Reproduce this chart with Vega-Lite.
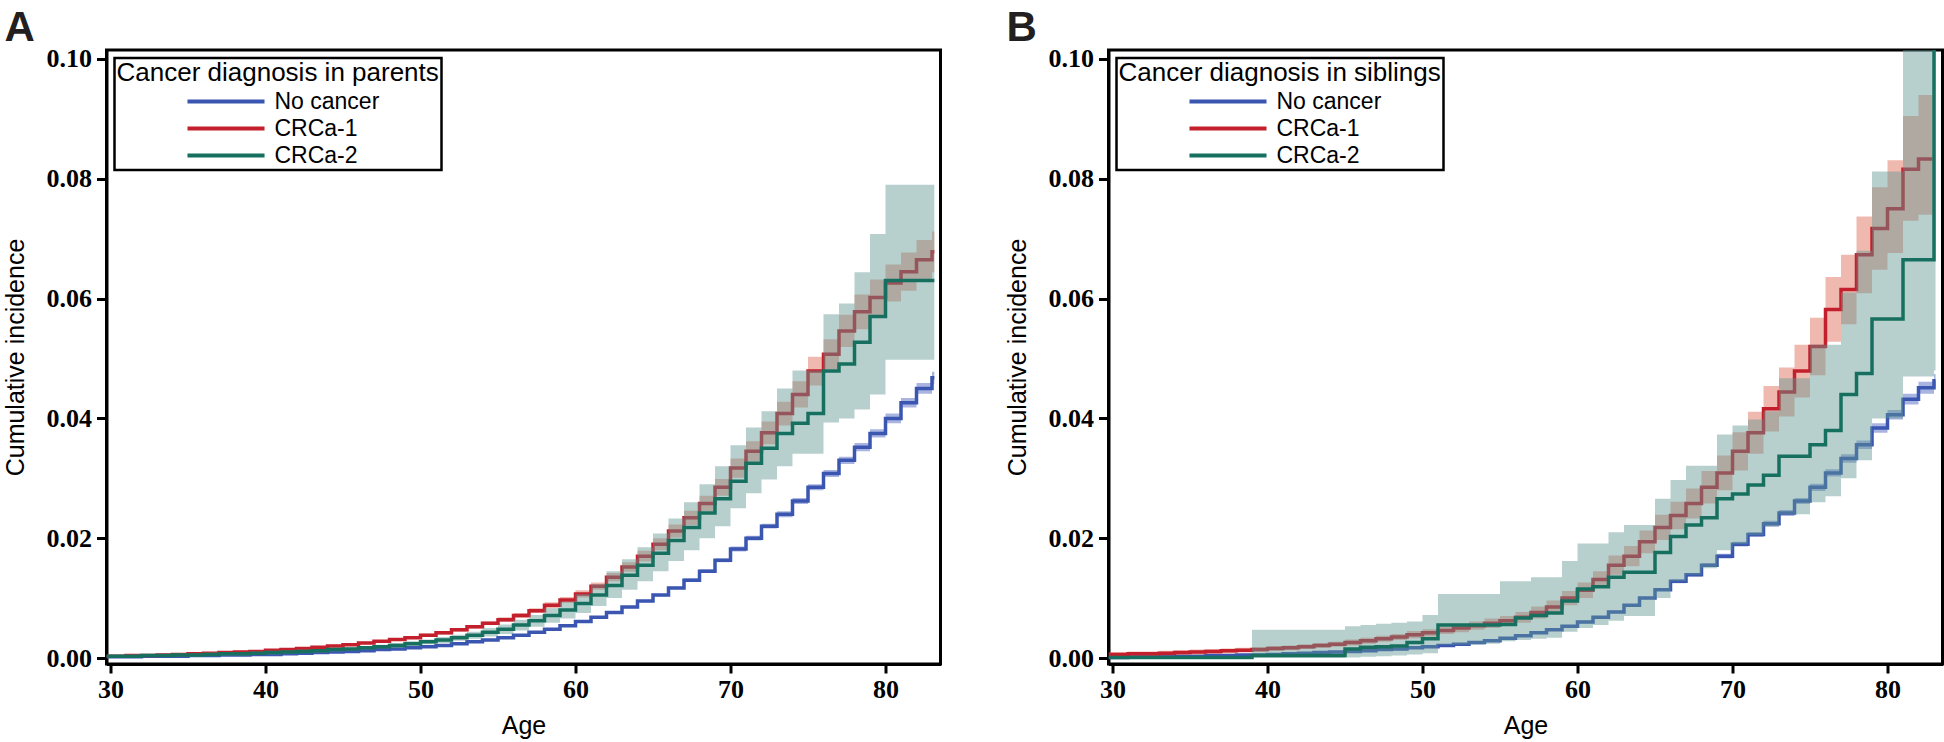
{
"$schema": "https://vega.github.io/schema/vega-lite/v6.json",
"autosize": {"type": "pad"},
"padding": {"left": 1.5, "top": 5, "right": 0, "bottom": 0},
"background": "white",
"config": {
 "view": {"stroke": "black", "strokeWidth": 3},
 "axis": {"grid": false, "domainColor": "black", "domainWidth": 3, "tickColor": "black", "tickWidth": 3, "tickSize": 9, "labelFont": "Liberation Serif", "labelFontWeight": "bold", "labelFontSize": 26, "labelColor": "black", "titleFont": "Liberation Sans", "titleFontWeight": "normal", "titleFontSize": 25, "titleColor": "black"},
 "axisX": {"labelPadding": 3, "titlePadding": 11},
 "axisY": {"labelPadding": 5, "titlePadding": 18, "tickSize": 10},
 "legend": {"orient": "top-left", "offset": 8, "titleFont": "Liberation Sans", "titleFontSize": 26, "titleFontWeight": "normal", "titleColor": "black", "titlePadding": 2, "titleLimit": 600, "labelFont": "Liberation Sans", "labelFontSize": 23, "labelColor": "black", "labelLimit": 400, "symbolType": "M-3.35,0H3.35", "symbolSize": 529, "symbolStrokeWidth": 4, "symbolOffset": 96, "labelOffset": 35, "rowPadding": 1, "strokeColor": "black", "strokeWidth": 2.5, "fillColor": "white", "padding": 2},
 "title": {"anchor": "start", "frame": "group", "fontSize": 42, "fontWeight": "bold", "font": "Liberation Sans", "color": "#231f20", "dx": -102, "offset": -4}
},
"datasets": {
"parents": [
{"g":"No cancer","a":29.75,"v":0.0002,"lo":0.0001,"hi":0.0003},
{"g":"No cancer","a":32,"v":0.0003,"lo":0.0002,"hi":0.0004},
{"g":"No cancer","a":35,"v":0.0004,"lo":0.0003,"hi":0.0005},
{"g":"No cancer","a":37,"v":0.0005,"lo":0.0004,"hi":0.0006},
{"g":"No cancer","a":39,"v":0.0006,"lo":0.0005,"hi":0.0007},
{"g":"No cancer","a":41,"v":0.0007,"lo":0.0006,"hi":0.0008},
{"g":"No cancer","a":42,"v":0.0008,"lo":0.0007,"hi":0.0009},
{"g":"No cancer","a":43,"v":0.0009,"lo":0.0008,"hi":0.0010},
{"g":"No cancer","a":44,"v":0.0010,"lo":0.0009,"hi":0.0011},
{"g":"No cancer","a":45,"v":0.0011,"lo":0.0010,"hi":0.0012},
{"g":"No cancer","a":46,"v":0.0012,"lo":0.0011,"hi":0.0013},
{"g":"No cancer","a":47,"v":0.0014,"lo":0.0013,"hi":0.0015},
{"g":"No cancer","a":48,"v":0.0015,"lo":0.0014,"hi":0.0016},
{"g":"No cancer","a":49,"v":0.0017,"lo":0.0016,"hi":0.0018},
{"g":"No cancer","a":50,"v":0.0019,"lo":0.0018,"hi":0.0020},
{"g":"No cancer","a":51,"v":0.0021,"lo":0.0020,"hi":0.0022},
{"g":"No cancer","a":52,"v":0.0024,"lo":0.0023,"hi":0.0025},
{"g":"No cancer","a":53,"v":0.0027,"lo":0.0026,"hi":0.0028},
{"g":"No cancer","a":54,"v":0.0030,"lo":0.0029,"hi":0.0031},
{"g":"No cancer","a":55,"v":0.0034,"lo":0.0033,"hi":0.0035},
{"g":"No cancer","a":56,"v":0.0038,"lo":0.0037,"hi":0.0039},
{"g":"No cancer","a":57,"v":0.0043,"lo":0.0042,"hi":0.0044},
{"g":"No cancer","a":58,"v":0.0048,"lo":0.0047,"hi":0.0049},
{"g":"No cancer","a":59,"v":0.0054,"lo":0.0053,"hi":0.0055},
{"g":"No cancer","a":60,"v":0.0061,"lo":0.0059,"hi":0.0063},
{"g":"No cancer","a":61,"v":0.0068,"lo":0.0066,"hi":0.0070},
{"g":"No cancer","a":62,"v":0.0076,"lo":0.0074,"hi":0.0078},
{"g":"No cancer","a":63,"v":0.0085,"lo":0.0083,"hi":0.0087},
{"g":"No cancer","a":64,"v":0.0095,"lo":0.0093,"hi":0.0097},
{"g":"No cancer","a":65,"v":0.0105,"lo":0.0103,"hi":0.0107},
{"g":"No cancer","a":66,"v":0.0117,"lo":0.0115,"hi":0.0119},
{"g":"No cancer","a":67,"v":0.0130,"lo":0.0127,"hi":0.0133},
{"g":"No cancer","a":68,"v":0.0145,"lo":0.0142,"hi":0.0148},
{"g":"No cancer","a":69,"v":0.0163,"lo":0.0160,"hi":0.0166},
{"g":"No cancer","a":70,"v":0.0182,"lo":0.0178,"hi":0.0186},
{"g":"No cancer","a":71,"v":0.0200,"lo":0.0196,"hi":0.0204},
{"g":"No cancer","a":72,"v":0.0220,"lo":0.0216,"hi":0.0224},
{"g":"No cancer","a":73,"v":0.0240,"lo":0.0235,"hi":0.0245},
{"g":"No cancer","a":74,"v":0.0262,"lo":0.0257,"hi":0.0267},
{"g":"No cancer","a":75,"v":0.0285,"lo":0.0280,"hi":0.0290},
{"g":"No cancer","a":76,"v":0.0308,"lo":0.0302,"hi":0.0314},
{"g":"No cancer","a":77,"v":0.0330,"lo":0.0324,"hi":0.0336},
{"g":"No cancer","a":78,"v":0.0352,"lo":0.0345,"hi":0.0359},
{"g":"No cancer","a":79,"v":0.0375,"lo":0.0368,"hi":0.0382},
{"g":"No cancer","a":80,"v":0.0400,"lo":0.0392,"hi":0.0408},
{"g":"No cancer","a":81,"v":0.0426,"lo":0.0418,"hi":0.0434},
{"g":"No cancer","a":82,"v":0.0450,"lo":0.0441,"hi":0.0459},
{"g":"No cancer","a":83,"v":0.0468,"lo":0.0458,"hi":0.0478},
{"g":"No cancer","a":83.15,"v":0.0468,"lo":0.0458,"hi":0.0478},
{"g":"CRCa-1","a":29.75,"v":0.0003,"lo":0.0001,"hi":0.0005},
{"g":"CRCa-1","a":31,"v":0.0004,"lo":0.0002,"hi":0.0006},
{"g":"CRCa-1","a":33,"v":0.0005,"lo":0.0003,"hi":0.0007},
{"g":"CRCa-1","a":34,"v":0.0006,"lo":0.0004,"hi":0.0008},
{"g":"CRCa-1","a":35,"v":0.0007,"lo":0.0005,"hi":0.0009},
{"g":"CRCa-1","a":36,"v":0.0008,"lo":0.0006,"hi":0.0010},
{"g":"CRCa-1","a":37,"v":0.0009,"lo":0.0007,"hi":0.0011},
{"g":"CRCa-1","a":38,"v":0.0010,"lo":0.0008,"hi":0.0012},
{"g":"CRCa-1","a":39,"v":0.0011,"lo":0.0009,"hi":0.0013},
{"g":"CRCa-1","a":40,"v":0.0013,"lo":0.0011,"hi":0.0015},
{"g":"CRCa-1","a":41,"v":0.0014,"lo":0.0012,"hi":0.0016},
{"g":"CRCa-1","a":42,"v":0.0016,"lo":0.0014,"hi":0.0018},
{"g":"CRCa-1","a":43,"v":0.0018,"lo":0.0016,"hi":0.0020},
{"g":"CRCa-1","a":44,"v":0.0020,"lo":0.0018,"hi":0.0022},
{"g":"CRCa-1","a":45,"v":0.0022,"lo":0.0020,"hi":0.0024},
{"g":"CRCa-1","a":46,"v":0.0025,"lo":0.0023,"hi":0.0027},
{"g":"CRCa-1","a":47,"v":0.0028,"lo":0.0026,"hi":0.0030},
{"g":"CRCa-1","a":48,"v":0.0031,"lo":0.0029,"hi":0.0033},
{"g":"CRCa-1","a":49,"v":0.0034,"lo":0.0032,"hi":0.0036},
{"g":"CRCa-1","a":50,"v":0.0038,"lo":0.0035,"hi":0.0041},
{"g":"CRCa-1","a":51,"v":0.0042,"lo":0.0039,"hi":0.0045},
{"g":"CRCa-1","a":52,"v":0.0047,"lo":0.0044,"hi":0.0050},
{"g":"CRCa-1","a":53,"v":0.0052,"lo":0.0049,"hi":0.0055},
{"g":"CRCa-1","a":54,"v":0.0058,"lo":0.0055,"hi":0.0061},
{"g":"CRCa-1","a":55,"v":0.0064,"lo":0.0060,"hi":0.0068},
{"g":"CRCa-1","a":56,"v":0.0071,"lo":0.0067,"hi":0.0075},
{"g":"CRCa-1","a":57,"v":0.0079,"lo":0.0075,"hi":0.0083},
{"g":"CRCa-1","a":58,"v":0.0088,"lo":0.0083,"hi":0.0093},
{"g":"CRCa-1","a":59,"v":0.0097,"lo":0.0092,"hi":0.0102},
{"g":"CRCa-1","a":60,"v":0.0107,"lo":0.0101,"hi":0.0113},
{"g":"CRCa-1","a":61,"v":0.0120,"lo":0.0114,"hi":0.0126},
{"g":"CRCa-1","a":62,"v":0.0135,"lo":0.0128,"hi":0.0142},
{"g":"CRCa-1","a":63,"v":0.0152,"lo":0.0144,"hi":0.0160},
{"g":"CRCa-1","a":64,"v":0.0170,"lo":0.0161,"hi":0.0179},
{"g":"CRCa-1","a":65,"v":0.0190,"lo":0.0180,"hi":0.0200},
{"g":"CRCa-1","a":66,"v":0.0212,"lo":0.0201,"hi":0.0223},
{"g":"CRCa-1","a":67,"v":0.0234,"lo":0.0222,"hi":0.0246},
{"g":"CRCa-1","a":68,"v":0.0258,"lo":0.0245,"hi":0.0271},
{"g":"CRCa-1","a":69,"v":0.0285,"lo":0.0271,"hi":0.0299},
{"g":"CRCa-1","a":70,"v":0.0317,"lo":0.0301,"hi":0.0333},
{"g":"CRCa-1","a":71,"v":0.0345,"lo":0.0328,"hi":0.0362},
{"g":"CRCa-1","a":72,"v":0.0376,"lo":0.0357,"hi":0.0395},
{"g":"CRCa-1","a":73,"v":0.0408,"lo":0.0388,"hi":0.0428},
{"g":"CRCa-1","a":74,"v":0.0440,"lo":0.0418,"hi":0.0462},
{"g":"CRCa-1","a":75,"v":0.0479,"lo":0.0455,"hi":0.0503},
{"g":"CRCa-1","a":76,"v":0.0507,"lo":0.0482,"hi":0.0532},
{"g":"CRCa-1","a":77,"v":0.0546,"lo":0.0519,"hi":0.0573},
{"g":"CRCa-1","a":78,"v":0.0578,"lo":0.0549,"hi":0.0607},
{"g":"CRCa-1","a":79,"v":0.0602,"lo":0.0572,"hi":0.0632},
{"g":"CRCa-1","a":80,"v":0.0626,"lo":0.0595,"hi":0.0657},
{"g":"CRCa-1","a":81,"v":0.0645,"lo":0.0613,"hi":0.0677},
{"g":"CRCa-1","a":82,"v":0.0665,"lo":0.0632,"hi":0.0698},
{"g":"CRCa-1","a":83,"v":0.0678,"lo":0.0644,"hi":0.0712},
{"g":"CRCa-1","a":83.15,"v":0.0678,"lo":0.0644,"hi":0.0712},
{"g":"CRCa-2","a":29.75,"v":0.0003,"lo":0.0001,"hi":0.0006},
{"g":"CRCa-2","a":32,"v":0.0004,"lo":0.0002,"hi":0.0007},
{"g":"CRCa-2","a":34,"v":0.0005,"lo":0.0002,"hi":0.0008},
{"g":"CRCa-2","a":36,"v":0.0006,"lo":0.0003,"hi":0.0009},
{"g":"CRCa-2","a":37,"v":0.0007,"lo":0.0004,"hi":0.0010},
{"g":"CRCa-2","a":39,"v":0.0008,"lo":0.0005,"hi":0.0011},
{"g":"CRCa-2","a":40,"v":0.0009,"lo":0.0006,"hi":0.0012},
{"g":"CRCa-2","a":41,"v":0.0010,"lo":0.0007,"hi":0.0013},
{"g":"CRCa-2","a":42,"v":0.0011,"lo":0.0008,"hi":0.0014},
{"g":"CRCa-2","a":43,"v":0.0012,"lo":0.0009,"hi":0.0015},
{"g":"CRCa-2","a":44,"v":0.0014,"lo":0.0011,"hi":0.0017},
{"g":"CRCa-2","a":45,"v":0.0015,"lo":0.0012,"hi":0.0018},
{"g":"CRCa-2","a":46,"v":0.0017,"lo":0.0014,"hi":0.0020},
{"g":"CRCa-2","a":47,"v":0.0019,"lo":0.0016,"hi":0.0022},
{"g":"CRCa-2","a":48,"v":0.0021,"lo":0.0017,"hi":0.0025},
{"g":"CRCa-2","a":49,"v":0.0024,"lo":0.0020,"hi":0.0028},
{"g":"CRCa-2","a":50,"v":0.0027,"lo":0.0023,"hi":0.0031},
{"g":"CRCa-2","a":51,"v":0.0030,"lo":0.0025,"hi":0.0035},
{"g":"CRCa-2","a":52,"v":0.0034,"lo":0.0029,"hi":0.0039},
{"g":"CRCa-2","a":53,"v":0.0038,"lo":0.0032,"hi":0.0044},
{"g":"CRCa-2","a":54,"v":0.0043,"lo":0.0036,"hi":0.0050},
{"g":"CRCa-2","a":55,"v":0.0048,"lo":0.0040,"hi":0.0056},
{"g":"CRCa-2","a":56,"v":0.0055,"lo":0.0046,"hi":0.0064},
{"g":"CRCa-2","a":57,"v":0.0062,"lo":0.0052,"hi":0.0072},
{"g":"CRCa-2","a":58,"v":0.0071,"lo":0.0059,"hi":0.0083},
{"g":"CRCa-2","a":59,"v":0.0080,"lo":0.0066,"hi":0.0094},
{"g":"CRCa-2","a":60,"v":0.0091,"lo":0.0075,"hi":0.0107},
{"g":"CRCa-2","a":61,"v":0.0105,"lo":0.0087,"hi":0.0123},
{"g":"CRCa-2","a":62,"v":0.0121,"lo":0.0100,"hi":0.0145},
{"g":"CRCa-2","a":63,"v":0.0138,"lo":0.0114,"hi":0.0165},
{"g":"CRCa-2","a":64,"v":0.0155,"lo":0.0128,"hi":0.0185},
{"g":"CRCa-2","a":65,"v":0.0175,"lo":0.0145,"hi":0.0208},
{"g":"CRCa-2","a":66,"v":0.0196,"lo":0.0162,"hi":0.0233},
{"g":"CRCa-2","a":67,"v":0.0218,"lo":0.0180,"hi":0.0260},
{"g":"CRCa-2","a":68,"v":0.0242,"lo":0.0200,"hi":0.0290},
{"g":"CRCa-2","a":69,"v":0.0266,"lo":0.0220,"hi":0.0320},
{"g":"CRCa-2","a":70,"v":0.0295,"lo":0.0250,"hi":0.0355},
{"g":"CRCa-2","a":71,"v":0.0325,"lo":0.0275,"hi":0.0385},
{"g":"CRCa-2","a":72,"v":0.0350,"lo":0.0298,"hi":0.0412},
{"g":"CRCa-2","a":73,"v":0.0375,"lo":0.0320,"hi":0.0450},
{"g":"CRCa-2","a":74,"v":0.0392,"lo":0.0341,"hi":0.0480},
{"g":"CRCa-2","a":75,"v":0.0408,"lo":0.0341,"hi":0.0480},
{"g":"CRCa-2","a":76,"v":0.0479,"lo":0.0393,"hi":0.0574},
{"g":"CRCa-2","a":77,"v":0.0491,"lo":0.0400,"hi":0.0592},
{"g":"CRCa-2","a":78,"v":0.0527,"lo":0.0415,"hi":0.0644},
{"g":"CRCa-2","a":79,"v":0.0570,"lo":0.0440,"hi":0.0708},
{"g":"CRCa-2","a":80,"v":0.0630,"lo":0.0498,"hi":0.0790},
{"g":"CRCa-2","a":83.15,"v":0.0630,"lo":0.0498,"hi":0.0790}
],
"siblings": [
{"g":"No cancer","a":29.75,"v":0.0001,"lo":0.0000,"hi":0.0002},
{"g":"No cancer","a":31,"v":0.0002,"lo":0.0001,"hi":0.0003},
{"g":"No cancer","a":33,"v":0.0003,"lo":0.0002,"hi":0.0004},
{"g":"No cancer","a":36,"v":0.0004,"lo":0.0003,"hi":0.0005},
{"g":"No cancer","a":38,"v":0.0005,"lo":0.0004,"hi":0.0006},
{"g":"No cancer","a":40,"v":0.0006,"lo":0.0005,"hi":0.0007},
{"g":"No cancer","a":41,"v":0.0007,"lo":0.0006,"hi":0.0008},
{"g":"No cancer","a":42,"v":0.0008,"lo":0.0007,"hi":0.0009},
{"g":"No cancer","a":43,"v":0.0009,"lo":0.0008,"hi":0.0010},
{"g":"No cancer","a":44,"v":0.0010,"lo":0.0009,"hi":0.0011},
{"g":"No cancer","a":45,"v":0.0011,"lo":0.0010,"hi":0.0012},
{"g":"No cancer","a":46,"v":0.0012,"lo":0.0011,"hi":0.0013},
{"g":"No cancer","a":47,"v":0.0014,"lo":0.0013,"hi":0.0015},
{"g":"No cancer","a":48,"v":0.0015,"lo":0.0014,"hi":0.0016},
{"g":"No cancer","a":49,"v":0.0017,"lo":0.0016,"hi":0.0018},
{"g":"No cancer","a":50,"v":0.0019,"lo":0.0018,"hi":0.0020},
{"g":"No cancer","a":51,"v":0.0021,"lo":0.0020,"hi":0.0022},
{"g":"No cancer","a":52,"v":0.0023,"lo":0.0022,"hi":0.0024},
{"g":"No cancer","a":53,"v":0.0026,"lo":0.0025,"hi":0.0027},
{"g":"No cancer","a":54,"v":0.0029,"lo":0.0028,"hi":0.0030},
{"g":"No cancer","a":55,"v":0.0033,"lo":0.0032,"hi":0.0034},
{"g":"No cancer","a":56,"v":0.0037,"lo":0.0036,"hi":0.0038},
{"g":"No cancer","a":57,"v":0.0042,"lo":0.0041,"hi":0.0043},
{"g":"No cancer","a":58,"v":0.0047,"lo":0.0046,"hi":0.0048},
{"g":"No cancer","a":59,"v":0.0053,"lo":0.0052,"hi":0.0054},
{"g":"No cancer","a":60,"v":0.0060,"lo":0.0058,"hi":0.0062},
{"g":"No cancer","a":61,"v":0.0068,"lo":0.0066,"hi":0.0070},
{"g":"No cancer","a":62,"v":0.0077,"lo":0.0075,"hi":0.0079},
{"g":"No cancer","a":63,"v":0.0088,"lo":0.0086,"hi":0.0090},
{"g":"No cancer","a":64,"v":0.0100,"lo":0.0098,"hi":0.0102},
{"g":"No cancer","a":65,"v":0.0114,"lo":0.0112,"hi":0.0116},
{"g":"No cancer","a":66,"v":0.0128,"lo":0.0125,"hi":0.0131},
{"g":"No cancer","a":67,"v":0.0139,"lo":0.0136,"hi":0.0142},
{"g":"No cancer","a":68,"v":0.0155,"lo":0.0152,"hi":0.0158},
{"g":"No cancer","a":69,"v":0.0170,"lo":0.0166,"hi":0.0174},
{"g":"No cancer","a":70,"v":0.0190,"lo":0.0186,"hi":0.0194},
{"g":"No cancer","a":71,"v":0.0206,"lo":0.0202,"hi":0.0210},
{"g":"No cancer","a":72,"v":0.0224,"lo":0.0219,"hi":0.0229},
{"g":"No cancer","a":73,"v":0.0242,"lo":0.0237,"hi":0.0247},
{"g":"No cancer","a":74,"v":0.0262,"lo":0.0257,"hi":0.0267},
{"g":"No cancer","a":75,"v":0.0285,"lo":0.0279,"hi":0.0291},
{"g":"No cancer","a":76,"v":0.0309,"lo":0.0303,"hi":0.0315},
{"g":"No cancer","a":77,"v":0.0333,"lo":0.0326,"hi":0.0340},
{"g":"No cancer","a":78,"v":0.0356,"lo":0.0349,"hi":0.0363},
{"g":"No cancer","a":79,"v":0.0384,"lo":0.0376,"hi":0.0392},
{"g":"No cancer","a":80,"v":0.0406,"lo":0.0398,"hi":0.0414},
{"g":"No cancer","a":81,"v":0.0432,"lo":0.0423,"hi":0.0441},
{"g":"No cancer","a":82,"v":0.0451,"lo":0.0441,"hi":0.0461},
{"g":"No cancer","a":83,"v":0.0463,"lo":0.0452,"hi":0.0474},
{"g":"No cancer","a":83.1,"v":0.0463,"lo":0.0452,"hi":0.0474},
{"g":"CRCa-1","a":29.75,"v":0.0006,"lo":0.0002,"hi":0.0010},
{"g":"CRCa-1","a":31,"v":0.0007,"lo":0.0003,"hi":0.0011},
{"g":"CRCa-1","a":33,"v":0.0008,"lo":0.0004,"hi":0.0012},
{"g":"CRCa-1","a":34,"v":0.0009,"lo":0.0005,"hi":0.0013},
{"g":"CRCa-1","a":35,"v":0.0010,"lo":0.0006,"hi":0.0014},
{"g":"CRCa-1","a":36,"v":0.0011,"lo":0.0007,"hi":0.0015},
{"g":"CRCa-1","a":37,"v":0.0012,"lo":0.0008,"hi":0.0016},
{"g":"CRCa-1","a":38,"v":0.0013,"lo":0.0009,"hi":0.0017},
{"g":"CRCa-1","a":39,"v":0.0014,"lo":0.0010,"hi":0.0018},
{"g":"CRCa-1","a":40,"v":0.0016,"lo":0.0012,"hi":0.0020},
{"g":"CRCa-1","a":41,"v":0.0017,"lo":0.0013,"hi":0.0021},
{"g":"CRCa-1","a":42,"v":0.0019,"lo":0.0015,"hi":0.0023},
{"g":"CRCa-1","a":43,"v":0.0021,"lo":0.0017,"hi":0.0025},
{"g":"CRCa-1","a":44,"v":0.0023,"lo":0.0019,"hi":0.0027},
{"g":"CRCa-1","a":45,"v":0.0026,"lo":0.0021,"hi":0.0031},
{"g":"CRCa-1","a":46,"v":0.0029,"lo":0.0024,"hi":0.0034},
{"g":"CRCa-1","a":47,"v":0.0032,"lo":0.0027,"hi":0.0037},
{"g":"CRCa-1","a":48,"v":0.0035,"lo":0.0030,"hi":0.0040},
{"g":"CRCa-1","a":49,"v":0.0039,"lo":0.0033,"hi":0.0045},
{"g":"CRCa-1","a":50,"v":0.0042,"lo":0.0036,"hi":0.0048},
{"g":"CRCa-1","a":51,"v":0.0046,"lo":0.0040,"hi":0.0052},
{"g":"CRCa-1","a":52,"v":0.0050,"lo":0.0043,"hi":0.0057},
{"g":"CRCa-1","a":53,"v":0.0054,"lo":0.0047,"hi":0.0061},
{"g":"CRCa-1","a":54,"v":0.0058,"lo":0.0050,"hi":0.0066},
{"g":"CRCa-1","a":55,"v":0.0062,"lo":0.0054,"hi":0.0070},
{"g":"CRCa-1","a":56,"v":0.0068,"lo":0.0059,"hi":0.0077},
{"g":"CRCa-1","a":57,"v":0.0076,"lo":0.0066,"hi":0.0086},
{"g":"CRCa-1","a":58,"v":0.0085,"lo":0.0074,"hi":0.0096},
{"g":"CRCa-1","a":59,"v":0.0100,"lo":0.0088,"hi":0.0112},
{"g":"CRCa-1","a":60,"v":0.0113,"lo":0.0100,"hi":0.0126},
{"g":"CRCa-1","a":61,"v":0.0131,"lo":0.0117,"hi":0.0145},
{"g":"CRCa-1","a":62,"v":0.0155,"lo":0.0139,"hi":0.0171},
{"g":"CRCa-1","a":63,"v":0.0170,"lo":0.0153,"hi":0.0187},
{"g":"CRCa-1","a":64,"v":0.0194,"lo":0.0175,"hi":0.0213},
{"g":"CRCa-1","a":65,"v":0.0218,"lo":0.0197,"hi":0.0239},
{"g":"CRCa-1","a":66,"v":0.0238,"lo":0.0215,"hi":0.0261},
{"g":"CRCa-1","a":67,"v":0.0258,"lo":0.0233,"hi":0.0283},
{"g":"CRCa-1","a":68,"v":0.0285,"lo":0.0258,"hi":0.0312},
{"g":"CRCa-1","a":69,"v":0.0309,"lo":0.0280,"hi":0.0338},
{"g":"CRCa-1","a":70,"v":0.0345,"lo":0.0313,"hi":0.0377},
{"g":"CRCa-1","a":71,"v":0.0376,"lo":0.0341,"hi":0.0411},
{"g":"CRCa-1","a":72,"v":0.0416,"lo":0.0378,"hi":0.0454},
{"g":"CRCa-1","a":73,"v":0.0444,"lo":0.0403,"hi":0.0485},
{"g":"CRCa-1","a":74,"v":0.0479,"lo":0.0435,"hi":0.0523},
{"g":"CRCa-1","a":75,"v":0.0520,"lo":0.0472,"hi":0.0568},
{"g":"CRCa-1","a":76,"v":0.0582,"lo":0.0528,"hi":0.0636},
{"g":"CRCa-1","a":77,"v":0.0615,"lo":0.0557,"hi":0.0673},
{"g":"CRCa-1","a":78,"v":0.0673,"lo":0.0609,"hi":0.0737},
{"g":"CRCa-1","a":79,"v":0.0717,"lo":0.0648,"hi":0.0786},
{"g":"CRCa-1","a":80,"v":0.0750,"lo":0.0676,"hi":0.0831},
{"g":"CRCa-1","a":81,"v":0.0816,"lo":0.0730,"hi":0.0905},
{"g":"CRCa-1","a":82,"v":0.0833,"lo":0.0740,"hi":0.0940},
{"g":"CRCa-1","a":82.9,"v":0.0833,"lo":0.0740,"hi":0.0940},
{"g":"CRCa-2","a":29.75,"v":0.0001,"lo":0.0001,"hi":0.0001},
{"g":"CRCa-2","a":39,"v":0.0004,"lo":0.0000,"hi":0.0047},
{"g":"CRCa-2","a":45,"v":0.0015,"lo":0.0001,"hi":0.0053},
{"g":"CRCa-2","a":46,"v":0.0018,"lo":0.0002,"hi":0.0055},
{"g":"CRCa-2","a":47,"v":0.0019,"lo":0.0003,"hi":0.0057},
{"g":"CRCa-2","a":48,"v":0.0020,"lo":0.0004,"hi":0.0059},
{"g":"CRCa-2","a":49,"v":0.0026,"lo":0.0006,"hi":0.0061},
{"g":"CRCa-2","a":50,"v":0.0032,"lo":0.0008,"hi":0.0072},
{"g":"CRCa-2","a":51,"v":0.0055,"lo":0.0022,"hi":0.0107},
{"g":"CRCa-2","a":54,"v":0.0055,"lo":0.0024,"hi":0.0107},
{"g":"CRCa-2","a":55,"v":0.0056,"lo":0.0028,"hi":0.0128},
{"g":"CRCa-2","a":56,"v":0.0067,"lo":0.0030,"hi":0.0128},
{"g":"CRCa-2","a":57,"v":0.0071,"lo":0.0032,"hi":0.0135},
{"g":"CRCa-2","a":58,"v":0.0075,"lo":0.0034,"hi":0.0135},
{"g":"CRCa-2","a":59,"v":0.0095,"lo":0.0044,"hi":0.0162},
{"g":"CRCa-2","a":60,"v":0.0115,"lo":0.0050,"hi":0.0191},
{"g":"CRCa-2","a":61,"v":0.0119,"lo":0.0055,"hi":0.0191},
{"g":"CRCa-2","a":62,"v":0.0135,"lo":0.0062,"hi":0.0210},
{"g":"CRCa-2","a":63,"v":0.0143,"lo":0.0070,"hi":0.0222},
{"g":"CRCa-2","a":65,"v":0.0176,"lo":0.0100,"hi":0.0266},
{"g":"CRCa-2","a":66,"v":0.0203,"lo":0.0128,"hi":0.0297},
{"g":"CRCa-2","a":67,"v":0.0222,"lo":0.0139,"hi":0.0321},
{"g":"CRCa-2","a":68,"v":0.0234,"lo":0.0150,"hi":0.0321},
{"g":"CRCa-2","a":69,"v":0.0266,"lo":0.0180,"hi":0.0373},
{"g":"CRCa-2","a":70,"v":0.0274,"lo":0.0190,"hi":0.0388},
{"g":"CRCa-2","a":71,"v":0.0289,"lo":0.0205,"hi":0.0398},
{"g":"CRCa-2","a":72,"v":0.0305,"lo":0.0220,"hi":0.0412},
{"g":"CRCa-2","a":73,"v":0.0337,"lo":0.0240,"hi":0.0467},
{"g":"CRCa-2","a":75,"v":0.0356,"lo":0.0260,"hi":0.0523},
{"g":"CRCa-2","a":76,"v":0.0380,"lo":0.0270,"hi":0.0523},
{"g":"CRCa-2","a":77,"v":0.0440,"lo":0.0300,"hi":0.0610},
{"g":"CRCa-2","a":78,"v":0.0475,"lo":0.0330,"hi":0.0680},
{"g":"CRCa-2","a":79,"v":0.0566,"lo":0.0400,"hi":0.0812},
{"g":"CRCa-2","a":81,"v":0.0665,"lo":0.0470,"hi":0.1100},
{"g":"CRCa-2","a":83,"v":0.1100,"lo":0.0480,"hi":0.1100},
{"g":"CRCa-2","a":83.1,"v":0.1100,"lo":0.0480,"hi":0.1100}
]
},
"resolve": {"scale": {"color": "independent"}, "legend": {"color": "independent"}},
"bounds": "flush",
"spacing": 168,
"hconcat": [
{
 "width": 834, "height": 614,
 "title": {"text": "A"},
 "data": {"name": "parents"},
 "encoding": {
  "x": {"field": "a", "type": "quantitative", "title": "Age", "scale": {"domain": [29.742, 83.548], "nice": false, "zero": false}, "axis": {"values": [30, 40, 50, 60, 70, 80], "format": "d"}}
 },
 "layer": [
  {"transform": [{"filter": "datum.g === 'No cancer'"}], "mark": {"type": "area", "interpolate": "step-after", "clip": true, "color": "#4258bc", "opacity": 0.45}, "encoding": {"y": {"field": "lo", "type": "quantitative", "title": "Cumulative incidence", "scale": {"domain": [-0.001, 0.1015], "nice": false, "zero": false}, "axis": {"values": [0, 0.02, 0.04, 0.06, 0.08, 0.1], "format": ".2f"}}, "y2": {"field": "hi"}}},
  {"transform": [{"filter": "datum.g === 'No cancer'"}], "mark": {"type": "line", "interpolate": "step-after", "clip": true, "strokeWidth": 3.5}, "encoding": {"y": {"field": "v", "type": "quantitative", "title": "Cumulative incidence", "scale": {"domain": [-0.001, 0.1015], "nice": false, "zero": false}, "axis": {"values": [0, 0.02, 0.04, 0.06, 0.08, 0.1], "format": ".2f"}}, "color": {"field": "g", "type": "nominal", "scale": {"domain": ["No cancer", "CRCa-1", "CRCa-2"], "range": ["#3a56b0", "#c41f2c", "#17705f"]}, "legend": {"title": "Cancer diagnosis in parents"}}}},
  {"transform": [{"filter": "datum.g === 'CRCa-1'"}], "mark": {"type": "area", "interpolate": "step-after", "clip": true, "color": "#de634d", "opacity": 0.45}, "encoding": {"y": {"field": "lo", "type": "quantitative", "title": "Cumulative incidence", "scale": {"domain": [-0.001, 0.1015], "nice": false, "zero": false}, "axis": {"values": [0, 0.02, 0.04, 0.06, 0.08, 0.1], "format": ".2f"}}, "y2": {"field": "hi"}}},
  {"transform": [{"filter": "datum.g === 'CRCa-1'"}], "mark": {"type": "line", "interpolate": "step-after", "clip": true, "strokeWidth": 3.5}, "encoding": {"y": {"field": "v", "type": "quantitative", "title": "Cumulative incidence", "scale": {"domain": [-0.001, 0.1015], "nice": false, "zero": false}, "axis": {"values": [0, 0.02, 0.04, 0.06, 0.08, 0.1], "format": ".2f"}}, "color": {"field": "g", "type": "nominal", "scale": {"domain": ["No cancer", "CRCa-1", "CRCa-2"], "range": ["#3a56b0", "#c41f2c", "#17705f"]}, "legend": {"title": "Cancer diagnosis in parents"}}}},
  {"transform": [{"filter": "datum.g === 'CRCa-2'"}], "mark": {"type": "area", "interpolate": "step-after", "clip": true, "color": "#5f9792", "opacity": 0.45}, "encoding": {"y": {"field": "lo", "type": "quantitative", "title": "Cumulative incidence", "scale": {"domain": [-0.001, 0.1015], "nice": false, "zero": false}, "axis": {"values": [0, 0.02, 0.04, 0.06, 0.08, 0.1], "format": ".2f"}}, "y2": {"field": "hi"}}},
  {"transform": [{"filter": "datum.g === 'CRCa-2'"}], "mark": {"type": "line", "interpolate": "step-after", "clip": true, "strokeWidth": 3.5}, "encoding": {"y": {"field": "v", "type": "quantitative", "title": "Cumulative incidence", "scale": {"domain": [-0.001, 0.1015], "nice": false, "zero": false}, "axis": {"values": [0, 0.02, 0.04, 0.06, 0.08, 0.1], "format": ".2f"}}, "color": {"field": "g", "type": "nominal", "scale": {"domain": ["No cancer", "CRCa-1", "CRCa-2"], "range": ["#3a56b0", "#c41f2c", "#17705f"]}, "legend": {"title": "Cancer diagnosis in parents"}}}}
 ]
},
{
 "width": 834, "height": 614,
 "title": {"text": "B"},
 "data": {"name": "siblings"},
 "encoding": {
  "x": {"field": "a", "type": "quantitative", "title": "Age", "scale": {"domain": [29.742, 83.548], "nice": false, "zero": false}, "axis": {"values": [30, 40, 50, 60, 70, 80], "format": "d"}}
 },
 "layer": [
  {"transform": [{"filter": "datum.g === 'No cancer'"}], "mark": {"type": "area", "interpolate": "step-after", "clip": true, "color": "#4258bc", "opacity": 0.45}, "encoding": {"y": {"field": "lo", "type": "quantitative", "title": "Cumulative incidence", "scale": {"domain": [-0.001, 0.1015], "nice": false, "zero": false}, "axis": {"values": [0, 0.02, 0.04, 0.06, 0.08, 0.1], "format": ".2f"}}, "y2": {"field": "hi"}}},
  {"transform": [{"filter": "datum.g === 'No cancer'"}], "mark": {"type": "line", "interpolate": "step-after", "clip": true, "strokeWidth": 3.5}, "encoding": {"y": {"field": "v", "type": "quantitative", "title": "Cumulative incidence", "scale": {"domain": [-0.001, 0.1015], "nice": false, "zero": false}, "axis": {"values": [0, 0.02, 0.04, 0.06, 0.08, 0.1], "format": ".2f"}}, "color": {"field": "g", "type": "nominal", "scale": {"domain": ["No cancer", "CRCa-1", "CRCa-2"], "range": ["#3a56b0", "#c41f2c", "#17705f"]}, "legend": {"title": "Cancer diagnosis in siblings"}}}},
  {"transform": [{"filter": "datum.g === 'CRCa-1'"}], "mark": {"type": "area", "interpolate": "step-after", "clip": true, "color": "#de634d", "opacity": 0.45}, "encoding": {"y": {"field": "lo", "type": "quantitative", "title": "Cumulative incidence", "scale": {"domain": [-0.001, 0.1015], "nice": false, "zero": false}, "axis": {"values": [0, 0.02, 0.04, 0.06, 0.08, 0.1], "format": ".2f"}}, "y2": {"field": "hi"}}},
  {"transform": [{"filter": "datum.g === 'CRCa-1'"}], "mark": {"type": "line", "interpolate": "step-after", "clip": true, "strokeWidth": 3.5}, "encoding": {"y": {"field": "v", "type": "quantitative", "title": "Cumulative incidence", "scale": {"domain": [-0.001, 0.1015], "nice": false, "zero": false}, "axis": {"values": [0, 0.02, 0.04, 0.06, 0.08, 0.1], "format": ".2f"}}, "color": {"field": "g", "type": "nominal", "scale": {"domain": ["No cancer", "CRCa-1", "CRCa-2"], "range": ["#3a56b0", "#c41f2c", "#17705f"]}, "legend": {"title": "Cancer diagnosis in siblings"}}}},
  {"transform": [{"filter": "datum.g === 'CRCa-2'"}], "mark": {"type": "area", "interpolate": "step-after", "clip": true, "color": "#5f9792", "opacity": 0.45}, "encoding": {"y": {"field": "lo", "type": "quantitative", "title": "Cumulative incidence", "scale": {"domain": [-0.001, 0.1015], "nice": false, "zero": false}, "axis": {"values": [0, 0.02, 0.04, 0.06, 0.08, 0.1], "format": ".2f"}}, "y2": {"field": "hi"}}},
  {"transform": [{"filter": "datum.g === 'CRCa-2'"}], "mark": {"type": "line", "interpolate": "step-after", "clip": true, "strokeWidth": 3.5}, "encoding": {"y": {"field": "v", "type": "quantitative", "title": "Cumulative incidence", "scale": {"domain": [-0.001, 0.1015], "nice": false, "zero": false}, "axis": {"values": [0, 0.02, 0.04, 0.06, 0.08, 0.1], "format": ".2f"}}, "color": {"field": "g", "type": "nominal", "scale": {"domain": ["No cancer", "CRCa-1", "CRCa-2"], "range": ["#3a56b0", "#c41f2c", "#17705f"]}, "legend": {"title": "Cancer diagnosis in siblings"}}}}
 ]
}
]
}
